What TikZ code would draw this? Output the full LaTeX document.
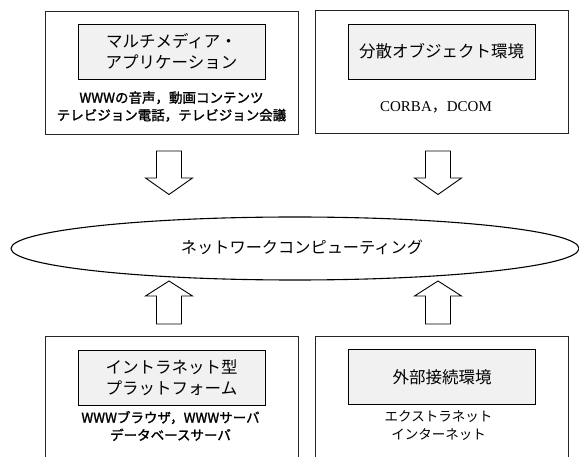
\documentclass[tikz,border=0pt]{standalone}
\usepackage{fontspec}
\setmainfont{Noto Sans CJK JP}
\newfontfamily\jpbold[FakeBold=1.5]{Noto Sans CJK JP}
\newfontfamily\lat{Liberation Serif}
\usetikzlibrary{shapes.geometric}
\tikzset{
  outerbox/.style={draw=black!85, line width=1pt, minimum width=253pt, minimum height=123pt, inner sep=0pt},
  titlebox/.style={draw=black, line width=0.9pt, fill=gray!11, minimum width=187pt, minimum height=55pt, inner sep=0pt, align=center, font=\fontsize{16.5}{21}\selectfont},
  bodytext/.style={align=center, inner sep=0pt, font=\fontsize{13.5}{17.5}\selectfont},
  hub/.style={draw=black, line width=1.1pt, ellipse, minimum width=568pt, minimum height=63pt, inner sep=0pt},
  hubtext/.style={inner sep=0pt, font=\fontsize{16.2}{18}\selectfont},
  blockarrow/.style={draw=black, line width=0.9pt, fill=white, line join=miter},
  pics/downarrow/.style={code={
    \draw[blockarrow] (-12.5,0) -- (12.5,0) -- (12.5,27) -- (23.5,27) -- (0,43.5) -- (-23.5,27) -- (-12.5,27) -- cycle;}},
  pics/uparrow/.style={code={
    \draw[blockarrow] (0,0) -- (23.5,15) -- (12.5,15) -- (12.5,43) -- (-12.5,43) -- (-12.5,15) -- (-23.5,15) -- cycle;}}
}
\begin{document}
\begin{tikzpicture}[x=1pt,y=-1pt]
\useasboundingbox (0,0) rectangle (579,457);
\clip (0,0) rectangle (579,457);
\fill[white] (0,0) rectangle (579,457);

% top boxes
\node[outerbox] (tl) at (171.5,73.5) {};
\node[titlebox] (tlt) at (171.5,51.5) {マルチメディア・\\アプリケーション};
\node[bodytext] (tlb) at (171.5,106.5) {\jpbold WWWの音声，動画コンテンツ\\\jpbold テレビジョン電話，テレビジョン会議};

\node[outerbox] (tr) at (441.5,72.5) {};
\node[titlebox] (trt) at (441.5,51.5) {分散オブジェクト環境};
\node[bodytext] (trb) at (436,107) {\fontsize{15}{17}\selectfont\lat CORBA{\normalfont，}DCOM};

% hub
\node[hub] (net) at (295,248.5) {};
\node[hubtext] (netlabel) at (302,247.5) {ネットワークコンピューティング};

% arrows
\coordinate (a1) at (169,151);
\coordinate (a2) at (438,151);
\coordinate (a3) at (169,281);
\coordinate (a4) at (438,281);
\pic at (a1) {downarrow};
\pic at (a2) {downarrow};
\pic at (a3) {uparrow};
\pic at (a4) {uparrow};

% bottom boxes
\node[outerbox, minimum height=140pt] (bl) at (172,407) {};
\node[titlebox] (blt) at (171.5,377.5) {イントラネット型\\プラットフォーム};
\node[bodytext] (blb) at (170.5,426) {\jpbold WWWブラウザ，WWWサーバ\\\jpbold データベースサーバ};

\node[outerbox, minimum height=140pt] (br) at (441.5,407) {};
\node[titlebox] (brt) at (442,377) {外部接続環境};
\node[bodytext] (brb) at (438.5,425.5) {エクストラネット\\インターネット};
\end{tikzpicture}
\end{document}
